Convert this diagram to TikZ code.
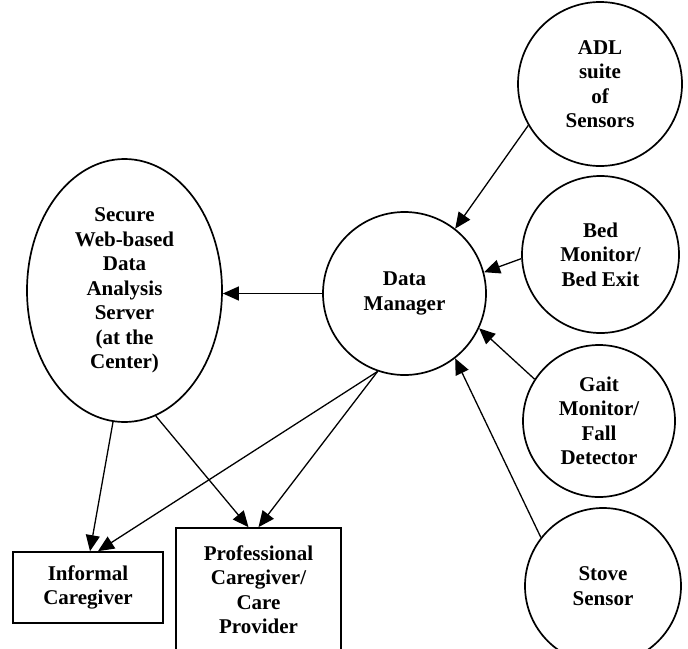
\documentclass[tikz,border=0pt]{standalone}
\usepackage{fontspec}
\setmainfont{Liberation Serif}
\usetikzlibrary{arrows.meta,calc,shapes.geometric}
\begin{document}
\begin{tikzpicture}[x=1pt,y=-1pt,
  every node/.style={font=\fontsize{21}{24.5}\selectfont\bfseries, align=center, inner sep=0pt},
  circ/.style={draw, circle, line width=1.7pt, minimum size=#1},
  oval/.style={draw, ellipse, line width=1.7pt},
  box/.style={draw, rectangle, line width=1.7pt},
  conn/.style={line width=1.3pt, -{Triangle[length=16pt,width=14pt]}}
]
\useasboundingbox (0,0) rectangle (688,648);

\node[circ=163pt] (dm) at (404.5,293.5) {Data\\Manager};
\node[circ=164pt] (adl) at (600,84) {ADL\\suite\\of\\Sensors};
\node[circ=157pt] (bed) at (600.5,254.5) {Bed\\Monitor/\\Bed Exit};
\node[circ=152pt] (gait) at (599,421) {Gait\\Monitor/\\Fall\\Detector};
\node[circ=156pt] (stove) at (603,586) {Stove\\Sensor};
\node[oval, minimum width=195pt, minimum height=263pt] (server) at (124.5,290.5)
  {Secure\\Web-based\\Data\\Analysis\\Server\\(at the\\Center)};
\node[box, minimum width=150pt, minimum height=71pt] (informal) at (88,587.5) {Informal\\Caregiver};
\node[box, minimum width=165pt, minimum height=123pt] (prof) at (258.5,589.5) {Professional\\Caregiver/\\Care\\Provider};

\draw[conn] (adl.210) -- (dm.52);
\draw[conn] (bed.183) -- (dm.15);
\draw[conn] (gait.147) -- (dm.-25);
\draw[conn] (stove.142) -- (dm.-52);
\draw[conn] (dm.west) -- (dm.west -| server.east);
\draw[conn] (dm.-109) -- ($(informal.north)+(10,0)$);
\draw[conn] (dm.-109) -- (prof.north);
\draw[conn] (server.-95) -- ($(informal.north)+(2,0)$);
\draw[conn] (server.-76) -- ($(prof.north)+(-10,0)$);
\end{tikzpicture}
\end{document}
